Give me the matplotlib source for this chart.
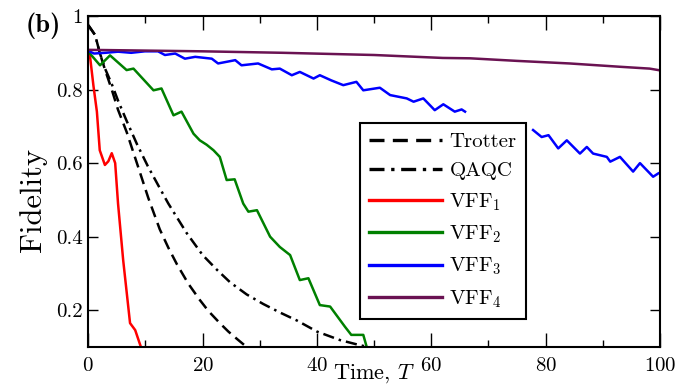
import numpy as np
import matplotlib
matplotlib.use("Agg")
import matplotlib.pyplot as plt

plt.rcParams["font.family"] = "cmr10"
plt.rcParams["mathtext.fontset"] = "cm"
plt.rcParams["axes.unicode_minus"] = False
plt.rcParams["axes.formatter.use_mathtext"] = True

# data
t_trotter = [0, 1.2, 2, 2.9, 4.1, 5.2, 6.7, 8.5, 10.5, 12.5, 14, 15.5, 17.5, 19.5,
             21, 23, 24.5, 26, 27.7]
f_trotter = [0.975, 0.948, 0.90, 0.855, 0.80, 0.745, 0.685, 0.60, 0.505, 0.42, 0.37,
             0.325, 0.272, 0.228, 0.198, 0.165, 0.142, 0.122, 0.10]

t_qaqc = [0, 1.2, 2, 2.9, 4.1, 5.2, 6.7, 8.5, 10.4, 12.5, 14, 17.2, 20, 22.5, 24.8,
          27.7, 30.6, 33.5, 36.5, 40, 44, 47.5, 49]
f_qaqc = [0.975, 0.948, 0.90, 0.858, 0.815, 0.77, 0.715, 0.652, 0.592, 0.532, 0.49,
          0.41, 0.35, 0.31, 0.276, 0.243, 0.217, 0.194, 0.172, 0.142, 0.119, 0.105, 0.10]

t_vff1 = [0, 0.3, 0.9, 1.5, 2.0, 2.9, 3.5, 4.1, 4.7, 5.2, 6.1, 7.3, 8.2, 9.2]
f_vff1 = [0.905, 0.89, 0.81, 0.74, 0.635, 0.595, 0.605, 0.627, 0.60, 0.49, 0.336,
          0.165, 0.146, 0.10]

t_vff2 = [0, 2.05, 3.8, 6.7, 7.9, 11.4, 12.8, 14.9, 16.3, 18.4, 19.5, 20.7, 21.9, 23,
          24.2, 25.6, 27.1, 28, 29.5, 31.8, 33.5, 35.3, 37, 38.5, 40.5, 42.3, 44.9,
          46, 48.1, 48.7]
f_vff2 = [0.903, 0.866, 0.893, 0.853, 0.857, 0.798, 0.803, 0.73, 0.74, 0.68, 0.662,
          0.65, 0.635, 0.617, 0.554, 0.556, 0.49, 0.468, 0.472, 0.40, 0.372, 0.35,
          0.282, 0.287, 0.214, 0.21, 0.155, 0.133, 0.133, 0.10]

t_vff3 = [0, 1, 3, 5.2, 7.5, 9.9, 12.2, 13.4, 15.2, 16.9, 18.7, 21.6, 22.7, 25.7,
          26.8, 29.7, 32.1, 33.5, 35.6, 37, 39.4, 40.5, 42.5, 44.6, 46.9, 48.1, 51,
          52.8, 55.7, 56.9, 58.6, 60.6, 62.1, 64.1, 65.3, 65.9, 66,
          77.8, 79.3, 80.5, 82.2, 83.7, 86, 87.2, 88.3, 90.7, 91.3, 93, 95.3, 96.5,
          98.8, 99.7]
f_vff3 = [0.905, 0.898, 0.900, 0.903, 0.900, 0.904, 0.904, 0.894, 0.898, 0.884,
          0.889, 0.884, 0.871, 0.880, 0.866, 0.871, 0.855, 0.857, 0.839, 0.848, 0.83,
          0.839, 0.825, 0.812, 0.821, 0.798, 0.805, 0.785, 0.776, 0.767, 0.776, 0.744,
          0.76, 0.74, 0.746, 0.74, np.nan,
          0.69, 0.671, 0.676, 0.64, 0.662, 0.626, 0.644, 0.626, 0.617, 0.604, 0.617,
          0.577, 0.60, 0.563, 0.572]

t_vff4 = [0, 10, 20, 34, 50, 62, 66.8, 75, 84.2, 93, 98.2, 99.7]
f_vff4 = [0.908, 0.906, 0.904, 0.900, 0.894, 0.886, 0.885, 0.878, 0.871, 0.862,
          0.857, 0.853]

x_ticks = [0, 20, 40, 60, 80, 100]
y_ticks = [0.2, 0.4, 0.6, 0.8, 1.0]
y_ticklabels = ["0.2", "0.4", "0.6", "0.8", "1"]

fig = plt.figure(figsize=(6.83, 3.86), dpi=100)
ax = fig.add_axes([0.1293, 0.101, 0.837, 0.8575])

lw = 1.8
ax.plot(t_trotter, f_trotter, color="black", ls=(0, (4.5, 2.5)), lw=lw, label="Trotter")
ax.plot(t_qaqc, f_qaqc, color="black", ls=(0, (4.5, 2, 1, 2)), lw=lw, label="QAQC")
ax.plot(t_vff1, f_vff1, color="#ff0000", lw=lw, label="VFF$_1$")
ax.plot(t_vff2, f_vff2, color="#008000", lw=lw, label="VFF$_2$")
ax.plot(t_vff3, f_vff3, color="#0000ff", lw=lw, label="VFF$_3$")
ax.plot(t_vff4, f_vff4, color="#6a1252", lw=lw, label="VFF$_4$")

ax.set_xlim(0, 100)
ax.set_ylim(0.1, 1.0)
ax.set_xticks(x_ticks)
ax.set_xticks([10, 30, 50, 70, 90], minor=True)
ax.set_yticks(y_ticks)
ax.set_yticklabels(y_ticklabels)
ax.tick_params(axis="both", which="both", direction="in", top=True, right=True,
               labelsize=15, width=1)
ax.tick_params(axis="x", which="major", length=10, pad=7)
ax.tick_params(axis="x", which="minor", length=5)
ax.tick_params(axis="y", which="major", length=7, pad=4)
for s in ax.spines.values():
    s.set_linewidth(1.5)

ax.set_xlabel("Time, $T$", fontsize=16)
ax.xaxis.set_label_coords(0.5, -0.045)
ax.set_ylabel("Fidelity", fontsize=22)
ax.yaxis.set_label_coords(-0.072, 0.444)

leg = ax.legend(loc="upper left", bbox_to_anchor=(0.475, 0.677), fontsize=15,
                frameon=True, fancybox=False, handlelength=3.5, labelspacing=0.52,
                borderpad=0.45, handletextpad=0.35, borderaxespad=0)
leg.get_frame().set_edgecolor("black")
leg.get_frame().set_linewidth(1.5)
leg.get_frame().set_alpha(1)
for h in leg.get_lines():
    h.set_linewidth(2.4)

fig.text(26 / 683, 1 - 26 / 386, "(b)", fontsize=19, family="cmb10", va="center")

fig.savefig("out.png", dpi=100)
